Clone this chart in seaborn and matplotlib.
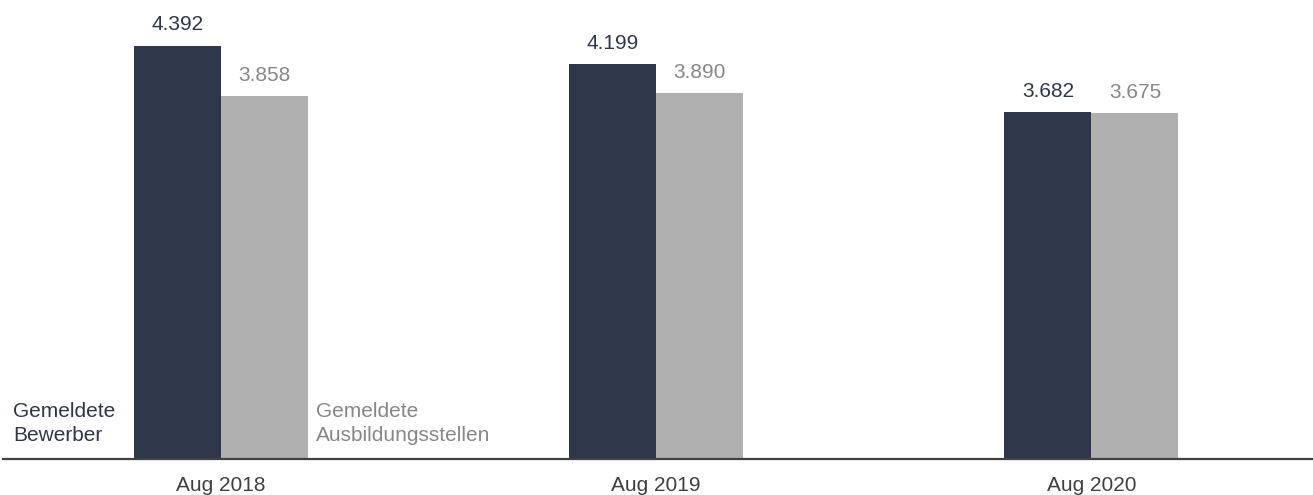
import matplotlib
matplotlib.use("Agg")
import matplotlib.pyplot as plt
import seaborn as sns
import pandas as pd

# Data
periods = ["Aug 2018", "Aug 2019", "Aug 2020"]
series = ["Gemeldete Bewerber", "Gemeldete Ausbildungsstellen"]
bewerber = [4392, 4199, 3682]
stellen = [3858, 3890, 3675]

DARK = "#2f374b"
GREY = "#b0b0b0"
GREY_TXT = "#878787"
AXIS = "#404040"

sns.set_theme(style="white")
plt.rcParams["font.family"] = ["Liberation Sans", "DejaVu Sans"]

df = pd.DataFrame({
    "Periode": periods * 2,
    "Serie": [series[0]] * 3 + [series[1]] * 3,
    "Wert": bewerber + stellen,
})

fig = plt.figure(figsize=(13.13, 4.95), dpi=100)
ax = fig.add_axes([3 / 1313, (495 - 458.7) / 495, 1 - 3 / 1313, 458.7 / 495])

sns.barplot(data=df, x="Periode", y="Wert", hue="Serie", order=periods,
            hue_order=series, palette=[DARK, GREY], width=0.4, gap=0,
            legend=False, ax=ax, saturation=1, linewidth=0)

ax.set_ylim(0, 458.7 / 0.09403)
ax.set_xlim(-0.5, 2.509)

for cont, col in zip(ax.containers, [DARK, GREY_TXT]):
    for bar in cont:
        v = bar.get_height()
        ax.annotate(f"{int(round(v)):,}".replace(",", "."),
                    (bar.get_x() + bar.get_width() / 2, v),
                    xytext=(0, 11), textcoords="offset points",
                    ha="center", va="baseline", fontsize=15, color=col)

ax.text(-0.477, 144, "Gemeldete\nBewerber", ha="left", va="bottom",
        fontsize=15, color=DARK, linespacing=1.35)
ax.text(0.219, 144, "Gemeldete\nAusbildungsstellen", ha="left", va="bottom",
        fontsize=15, color=GREY_TXT, linespacing=1.35)

for s in ["top", "right", "left"]:
    ax.spines[s].set_visible(False)
ax.spines["bottom"].set_color(AXIS)
ax.spines["bottom"].set_linewidth(1.6)
ax.set_yticks([])
ax.set_xlabel("")
ax.set_ylabel("")
ax.tick_params(axis="x", length=0, pad=12.5, labelsize=15, labelcolor=AXIS)

fig.savefig("out.png", dpi=100)
